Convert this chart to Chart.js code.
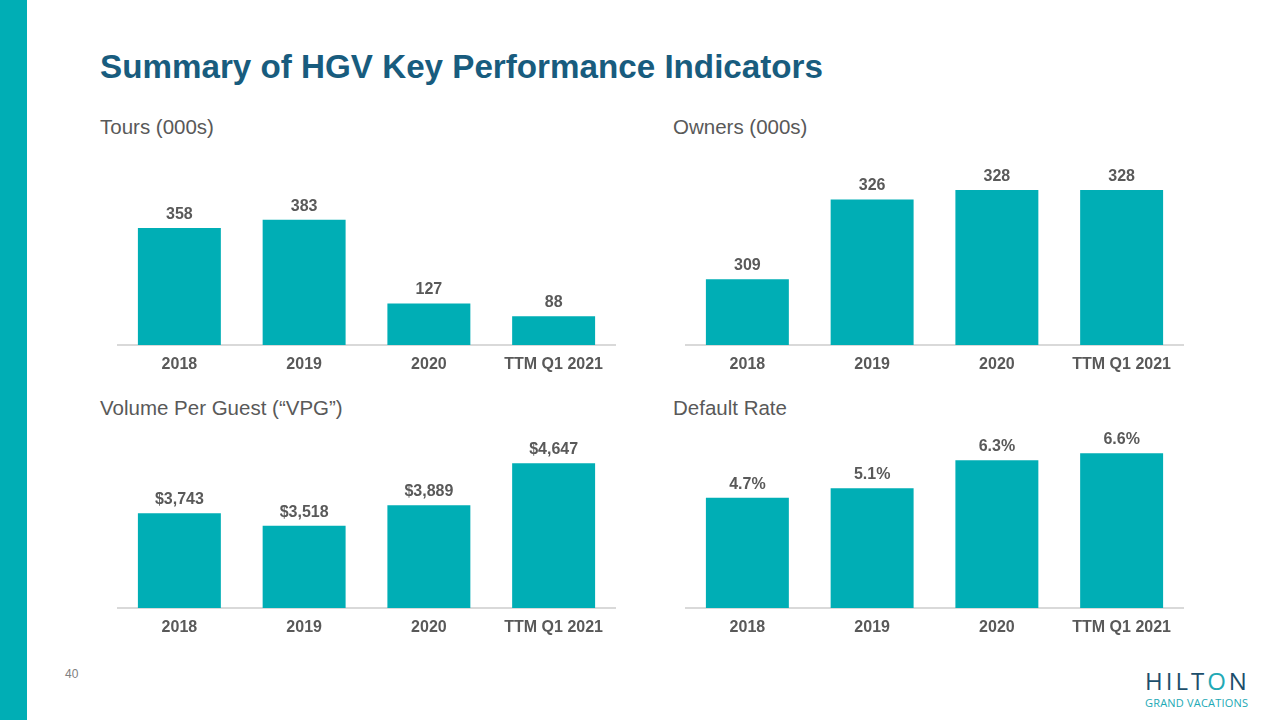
<!DOCTYPE html>
<html>
<head>
<meta charset="utf-8">
<script src="https://cdn.jsdelivr.net/npm/chart.js@4.4.1/dist/chart.umd.min.js"></script>
<style>
  html, body { margin:0; padding:0; background:#fff; }
  body { width:1280px; height:720px; position:relative; overflow:hidden; font-family: Arial, "Liberation Sans", sans-serif; }
  .sidebar { position:absolute; left:0; top:0; width:27px; height:720px; background:#00AEB5; }
  .title { position:absolute; left:100px; top:50px; font-size:33.2px; line-height:1; font-weight:bold; color:#185C7E; white-space:nowrap; }
  .sub { position:absolute; font-size:20.5px; line-height:1; color:#595959; white-space:nowrap; }
  .page { position:absolute; left:65px; top:668px; font-size:12px; line-height:1; color:#808080; }
  .logo1 { position:absolute; left:1145px; top:669px; font-family:"Open Sans", sans-serif; font-size:24px; line-height:1; letter-spacing:3px; color:#1C4E6B; white-space:nowrap; }
  .logo1 span { color:#22A9B5; }
  .logo2 { position:absolute; left:1145px; top:697px; font-family:"Open Sans", sans-serif; font-size:11px; line-height:1; letter-spacing:0.2px; color:#22A9B5; white-space:nowrap; }
  canvas { position:absolute; }
</style>
</head>
<body>
<div class="sidebar"></div>
<div class="title">Summary of HGV Key Performance Indicators</div>
<div class="sub" style="left:100px; top:117px;">Tours (000s)</div>
<div class="sub" style="left:673px; top:117px;">Owners (000s)</div>
<div class="sub" style="left:100px; top:398px;">Volume Per Guest (“VPG”)</div>
<div class="sub" style="left:673px; top:398px;">Default Rate</div>
<div class="page">40</div>
<div class="logo1">HILT<span>O</span>N</div>
<div class="logo2">GRAND VACATIONS</div>

<canvas id="c1" width="499" height="215" style="left:117px; top:160px;"></canvas>
<canvas id="c2" width="499" height="215" style="left:685px; top:160px;"></canvas>
<canvas id="c3" width="499" height="213" style="left:117px; top:425px;"></canvas>
<canvas id="c4" width="499" height="213" style="left:685px; top:425px;"></canvas>

<script>
// ---- Data ----
const categories = ['2018', '2019', '2020', 'TTM Q1 2021'];
const tours = [358, 383, 127, 88];
const owners = [309, 326, 328, 328];
const vpg = [3743, 3518, 3889, 4647];
const defaultRate = [4.7, 5.1, 6.3, 6.6];

// ---- Style ----
const BAR_COLOR = '#00AEB5';
const TEXT_COLOR = '#595959';
Chart.defaults.font.family = 'Arial, "Liberation Sans", sans-serif';

const valueLabels = {
  id: 'valueLabels',
  afterDatasetsDraw(chart, args, opts) {
    const ctx = chart.ctx;
    const meta = chart.getDatasetMeta(0);
    const data = chart.data.datasets[0].data;
    ctx.save();
    ctx.font = 'bold 16px Arial, "Liberation Sans", sans-serif';
    ctx.fillStyle = TEXT_COLOR;
    ctx.textAlign = 'center';
    ctx.textBaseline = 'alphabetic';
    meta.data.forEach((bar, i) => {
      ctx.fillText(opts.fmt(data[i]), bar.x, bar.y - 9);
    });
    ctx.restore();
  }
};

function makeChart(id, values, yMin, yMax, fmt) {
  return new Chart(document.getElementById(id), {
    type: 'bar',
    data: {
      labels: categories,
      datasets: [{
        data: values,
        backgroundColor: BAR_COLOR,
        borderWidth: 0,
        barPercentage: 0.665,
        categoryPercentage: 1.0
      }]
    },
    options: {
      responsive: false,
      animation: false,
      layout: { padding: 0 },
      plugins: {
        legend: { display: false },
        tooltip: { enabled: false },
        valueLabels: { fmt: fmt }
      },
      scales: {
        x: {
          grid: { display: false, drawTicks: false },
          border: { display: true, color: '#D9D9D9', width: 2 },
          ticks: {
            color: TEXT_COLOR,
            font: { size: 16, weight: 'bold' },
            padding: 10,
            maxRotation: 0,
            autoSkip: false
          },
          afterFit(scale) { scale.height = 30; }
        },
        y: {
          display: false,
          min: yMin,
          max: yMax
        }
      }
    },
    plugins: [valueLabels]
  });
}

makeChart('c1', tours, 0, 565.7, v => String(v));
makeChart('c2', owners, 295, 334.4, v => String(v));
makeChart('c3', vpg, 2031, 5340, v => '$' + v.toLocaleString('en-US'));
makeChart('c4', defaultRate, 0, 7.8, v => v.toFixed(1) + '%');
</script>
</body>
</html>
